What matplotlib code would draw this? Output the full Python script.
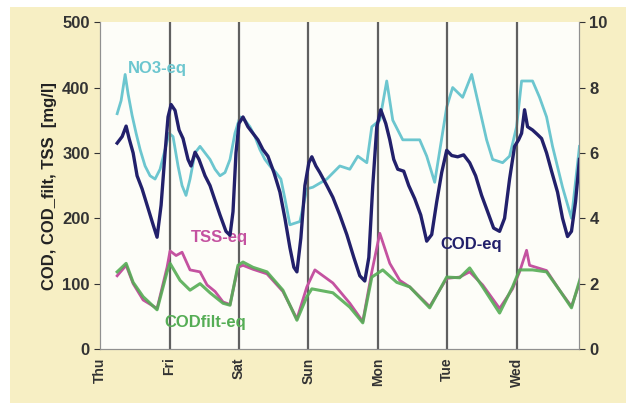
import matplotlib.pyplot as plt
from matplotlib.patches import Rectangle

plt.rcParams['font.family'] = ['Liberation Sans', 'DejaVu Sans']

# time in days since Thu 00:00
day_labels = ['Thu', 'Fri', 'Sat', 'Sun', 'Mon', 'Tue', 'Wed']

cod_t = [0.245, 0.317, 0.374, 0.417, 0.475, 0.532, 0.604, 0.691, 0.763, 0.820, 0.878, 0.935,
         0.978, 1.022, 1.079, 1.137, 1.194, 1.266, 1.309, 1.367, 1.424, 1.511, 1.583, 1.640,
         1.727, 1.813, 1.871, 1.914, 1.957, 2.000, 2.058, 2.129, 2.201, 2.273, 2.345, 2.417,
         2.504, 2.590, 2.662, 2.734, 2.791, 2.835, 2.892, 2.950, 3.007, 3.050, 3.108, 3.165,
         3.266, 3.353, 3.453, 3.554, 3.655, 3.741, 3.813, 3.871, 3.928, 3.986, 4.043, 4.115,
         4.173, 4.230, 4.288, 4.374, 4.446, 4.532, 4.619, 4.705, 4.777, 4.849, 4.921, 4.993,
         5.065, 5.151, 5.237, 5.324, 5.410, 5.496, 5.583, 5.669, 5.755, 5.827, 5.899, 5.971,
         6.029, 6.072, 6.115, 6.158, 6.230, 6.302, 6.360, 6.432, 6.504, 6.590, 6.662, 6.734,
         6.791, 6.849, 6.906]
cod_v = [315, 325, 341, 322, 300, 265, 245, 215, 190, 171, 220, 300,
         355, 374, 365, 335, 322, 290, 280, 301, 290, 265, 250, 232,
         205, 180, 174, 210, 300, 345, 355, 340, 330, 320, 305, 295,
         270, 240, 200, 155, 125, 118, 170, 250, 285, 294, 280, 270,
         250, 232, 205, 175, 140, 112, 104, 140, 250, 340, 366, 345,
         320, 290, 275, 272, 250, 230, 205, 165, 175, 225, 270, 304,
         296, 294, 297, 285, 265, 235, 210, 185, 180, 200, 260, 310,
         320, 330, 366, 340, 335, 328, 322, 300, 272, 240, 200, 172,
         180, 225, 290]

no3_t = [0.245, 0.302, 0.360, 0.403, 0.460, 0.518, 0.576, 0.647, 0.719, 0.791, 0.863, 0.935,
         0.993, 1.050, 1.122, 1.180, 1.237, 1.295, 1.367, 1.439, 1.511, 1.583, 1.655, 1.727,
         1.799, 1.871, 1.942, 2.014, 2.086, 2.158, 2.230, 2.302, 2.374, 2.446, 2.532, 2.604,
         2.662, 2.734, 2.878, 2.978, 3.065, 3.266, 3.453, 3.597, 3.712, 3.842, 3.914, 4.029,
         4.129, 4.216, 4.360, 4.604, 4.705, 4.820, 4.993, 5.079, 5.223, 5.353, 5.439, 5.568,
         5.655, 5.799, 5.899, 6.000, 6.072, 6.230, 6.331, 6.432, 6.518, 6.662, 6.791, 6.906]
no3_v = [7.2, 7.6, 8.4, 7.8, 7.15, 6.6, 6.1, 5.6, 5.3, 5.2, 5.5, 6.1,
         6.6, 6.5, 5.6, 5.0, 4.7, 5.2, 6.0, 6.2, 6.0, 5.8, 5.5, 5.3,
         5.4, 5.8, 6.6, 7.1, 7.0, 6.8, 6.5, 6.1, 5.8, 5.6, 5.4, 5.2,
         4.6, 3.8, 3.9, 4.9, 4.95, 5.2, 5.6, 5.5, 5.9, 5.7, 6.8, 7.0,
         8.2, 7.0, 6.4, 6.4, 5.9, 5.1, 7.4, 8.0, 7.7, 8.4, 7.6, 6.4,
         5.8, 5.7, 5.9, 6.8, 8.2, 8.2, 7.7, 7.1, 6.2, 4.95, 4.0, 6.2]

tss_t = [0.245, 0.374, 0.475, 0.619, 0.820, 0.964, 1.007, 1.094, 1.180, 1.295, 1.439, 1.540,
         1.655, 1.770, 1.871, 1.986, 2.058, 2.201, 2.403, 2.633, 2.835, 2.978, 3.094, 3.353,
         3.597, 3.784, 3.914, 4.029, 4.173, 4.317, 4.460, 4.748, 4.993, 5.180, 5.324, 5.511,
         5.755, 5.942, 6.043, 6.144, 6.187, 6.432, 6.619, 6.791, 6.920]
tss_v = [112, 128, 100, 75, 62, 125, 150, 143, 148, 121, 118, 98,
         88, 72, 68, 125, 128, 122, 115, 88, 46, 95, 121, 101,
         70, 42, 118, 177, 131, 105, 95, 65, 108, 110, 118, 98,
         62, 92, 118, 151, 128, 120, 90, 65, 105]

codf_t = [0.245, 0.374, 0.475, 0.619, 0.820, 0.964, 1.007, 1.151, 1.295, 1.439, 1.583, 1.770,
          1.871, 1.986, 2.058, 2.201, 2.403, 2.633, 2.835, 2.978, 3.050, 3.353, 3.597, 3.784,
          3.914, 4.072, 4.273, 4.460, 4.748, 4.993, 5.180, 5.324, 5.511, 5.755, 5.942, 6.043,
          6.230, 6.432, 6.619, 6.791, 6.920]
codf_v = [118, 131, 102, 80, 60, 118, 131, 105, 90, 100, 86, 70,
          67, 128, 133, 125, 118, 90, 44, 80, 92, 86, 64, 40,
          110, 121, 102, 95, 63, 110, 109, 124, 95, 55, 95, 121,
          121, 118, 90, 63, 109]

c_cod = '#22206b'
c_no3 = '#6cc6cf'
c_tss = '#c452a0'
c_codf = '#55ad55'

fig = plt.figure(figsize=(6.26, 4.03), dpi=100)
fig.patches.append(Rectangle((10 / 626, 0), 1, 1 - 7 / 403, transform=fig.transFigure,
                             facecolor='#f7efc4', edgecolor='none', zorder=-10))

ax = fig.add_axes([0.16, 0.134, 0.765, 0.811])
ax2 = ax.twinx()

for d in range(1, 7):
    ax.axvline(d, color='#606060', lw=1.6, zorder=1)

ax2.plot(no3_t, no3_v, color=c_no3, lw=2)
ax.plot(tss_t, tss_v, color=c_tss, lw=2, zorder=3)
ax.plot(codf_t, codf_v, color=c_codf, lw=2.2, alpha=0.9, zorder=4)
ax.plot(cod_t, cod_v, color=c_cod, lw=2.4, zorder=5)
ax.set_zorder(ax2.get_zorder() + 1)
ax.patch.set_visible(False)
ax2.patch.set_visible(True)
ax2.patch.set_facecolor('#fdfdf8')

ax.set_xlim(0, 6.9)
ax.set_ylim(0, 500)
ax2.set_ylim(0, 10)
ax.set_xticks(range(7))
ax.set_xticklabels(day_labels, rotation=90, fontsize=10, fontweight='bold', color='#333333')
ax.set_yticks([0, 100, 200, 300, 400, 500])
ax2.set_yticks([0, 2, 4, 6, 8, 10])
ax.tick_params(axis='y', labelsize=12, colors='#333333', length=4)
ax2.tick_params(axis='y', labelsize=12, colors='#333333', length=4)
ax.tick_params(axis='x', length=0, pad=6)
for t in ax.get_yticklabels() + ax2.get_yticklabels():
    t.set_fontweight('bold')
for a in (ax, ax2):
    for s in a.spines.values():
        s.set_color('#909090')
    a.spines['top'].set_visible(False)

ax.set_ylabel('COD, COD_filt, TSS  [mg/l]', fontsize=12, fontweight='bold', color='#222222')

ax.text(0.4, 422, 'NO3-eq', color=c_no3, fontsize=12, fontweight='bold')
ax.text(1.3, 164, 'TSS-eq', color=c_tss, fontsize=12, fontweight='bold')
ax.text(0.92, 33, 'CODfilt-eq', color=c_codf, fontsize=12, fontweight='bold')
ax.text(4.9, 153, 'COD-eq', color=c_cod, fontsize=12, fontweight='bold')

fig.savefig('out.png', dpi=100, facecolor='white')
